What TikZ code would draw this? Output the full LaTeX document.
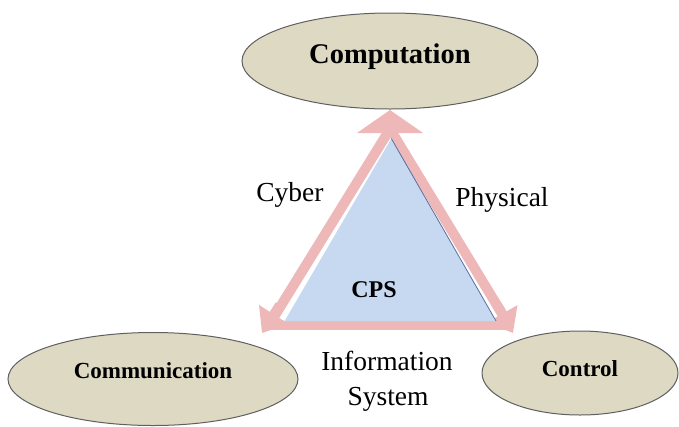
\documentclass[tikz,border=0pt]{standalone}
\usepackage{fontspec}
\setmainfont{Liberation Serif}
\usetikzlibrary{shapes.geometric,arrows.meta}
\definecolor{tanfill}{RGB}{221,217,195}
\definecolor{cpsblue}{RGB}{198,217,241}
\definecolor{pinkarr}{RGB}{238,184,184}
\definecolor{edgegray}{RGB}{95,95,95}
\definecolor{blueedge}{RGB}{90,110,160}
\newcommand\myfs[1]{\fontsize{#1}{#1}\selectfont}
\tikzset{
  oval/.style={ellipse, draw=edgegray, line width=1pt, fill=tanfill, inner sep=0pt},
  side/.style={draw=pinkarr, line width=10pt, line cap=butt},
  headarrow/.style={draw=pinkarr, fill=pinkarr, line width=10pt},
  lbl/.style={inner sep=0pt, anchor=base, font=\myfs{27.5}},
  blbl/.style={inner sep=0pt, anchor=base, font=\myfs{24}\bfseries},
}
\begin{document}
\begin{tikzpicture}[x=1pt,y=-1pt]
\useasboundingbox (0,0) rectangle (679,426);
% ovals
\node[oval, minimum width=296pt, minimum height=96pt, text height=20pt, text depth=16pt, font=\myfs{28.5}\bfseries] (comp) at (390,61) {Computation};
\node[oval, minimum width=290pt, minimum height=93pt, text height=18pt, text depth=20pt, font=\myfs{23}\bfseries] (commu) at (153,379) {Communication};
\node[oval, minimum width=196pt, minimum height=84pt, text height=18pt, text depth=12pt, font=\myfs{23}\bfseries] (ctrl) at (580,373) {Control};
% triangle corners
\coordinate (T) at (390,129);
\coordinate (L) at (269,325);
\coordinate (R) at (509,325);
% pink sides
\draw[side] (T) -- (L);
\draw[side] (T) -- (R);
\draw[side] (L) -- (R);
% arrow heads
\coordinate (topS) at (390,140);
\coordinate (topE) at (390,110);
\coordinate (blS) at (280,305);
\coordinate (blE) at (262,333);
\coordinate (brS) at (497,305);
\coordinate (brE) at (513,333);
\draw[headarrow, -{Triangle[width=65pt,length=23pt]}] (topS) -- (topE);
\draw[headarrow, -{Triangle[width=34pt,length=22pt]}] (blS) -- (blE);
\draw[headarrow, -{Triangle[width=34pt,length=22pt]}] (brS) -- (brE);
% blue triangle
\coordinate (B1) at (391,138);
\coordinate (B2) at (284,321);
\coordinate (B3) at (496,321);
\fill[cpsblue] (B1) -- (B2) -- (B3) -- cycle;
\draw[blueedge, line width=0.8pt] (B1) -- (B3);
\draw[white, line width=0.8pt] (B1) -- (B2);
% labels
\node[lbl] (cyber) at (290,201) {Cyber};
\node[lbl] (phys) at (502,206) {Physical};
\node[blbl] (cps) at (374,297) {CPS};
\node[lbl] (info) at (387,370) {Information};
\node[lbl] (sys) at (388,405) {System};
\end{tikzpicture}
\end{document}
